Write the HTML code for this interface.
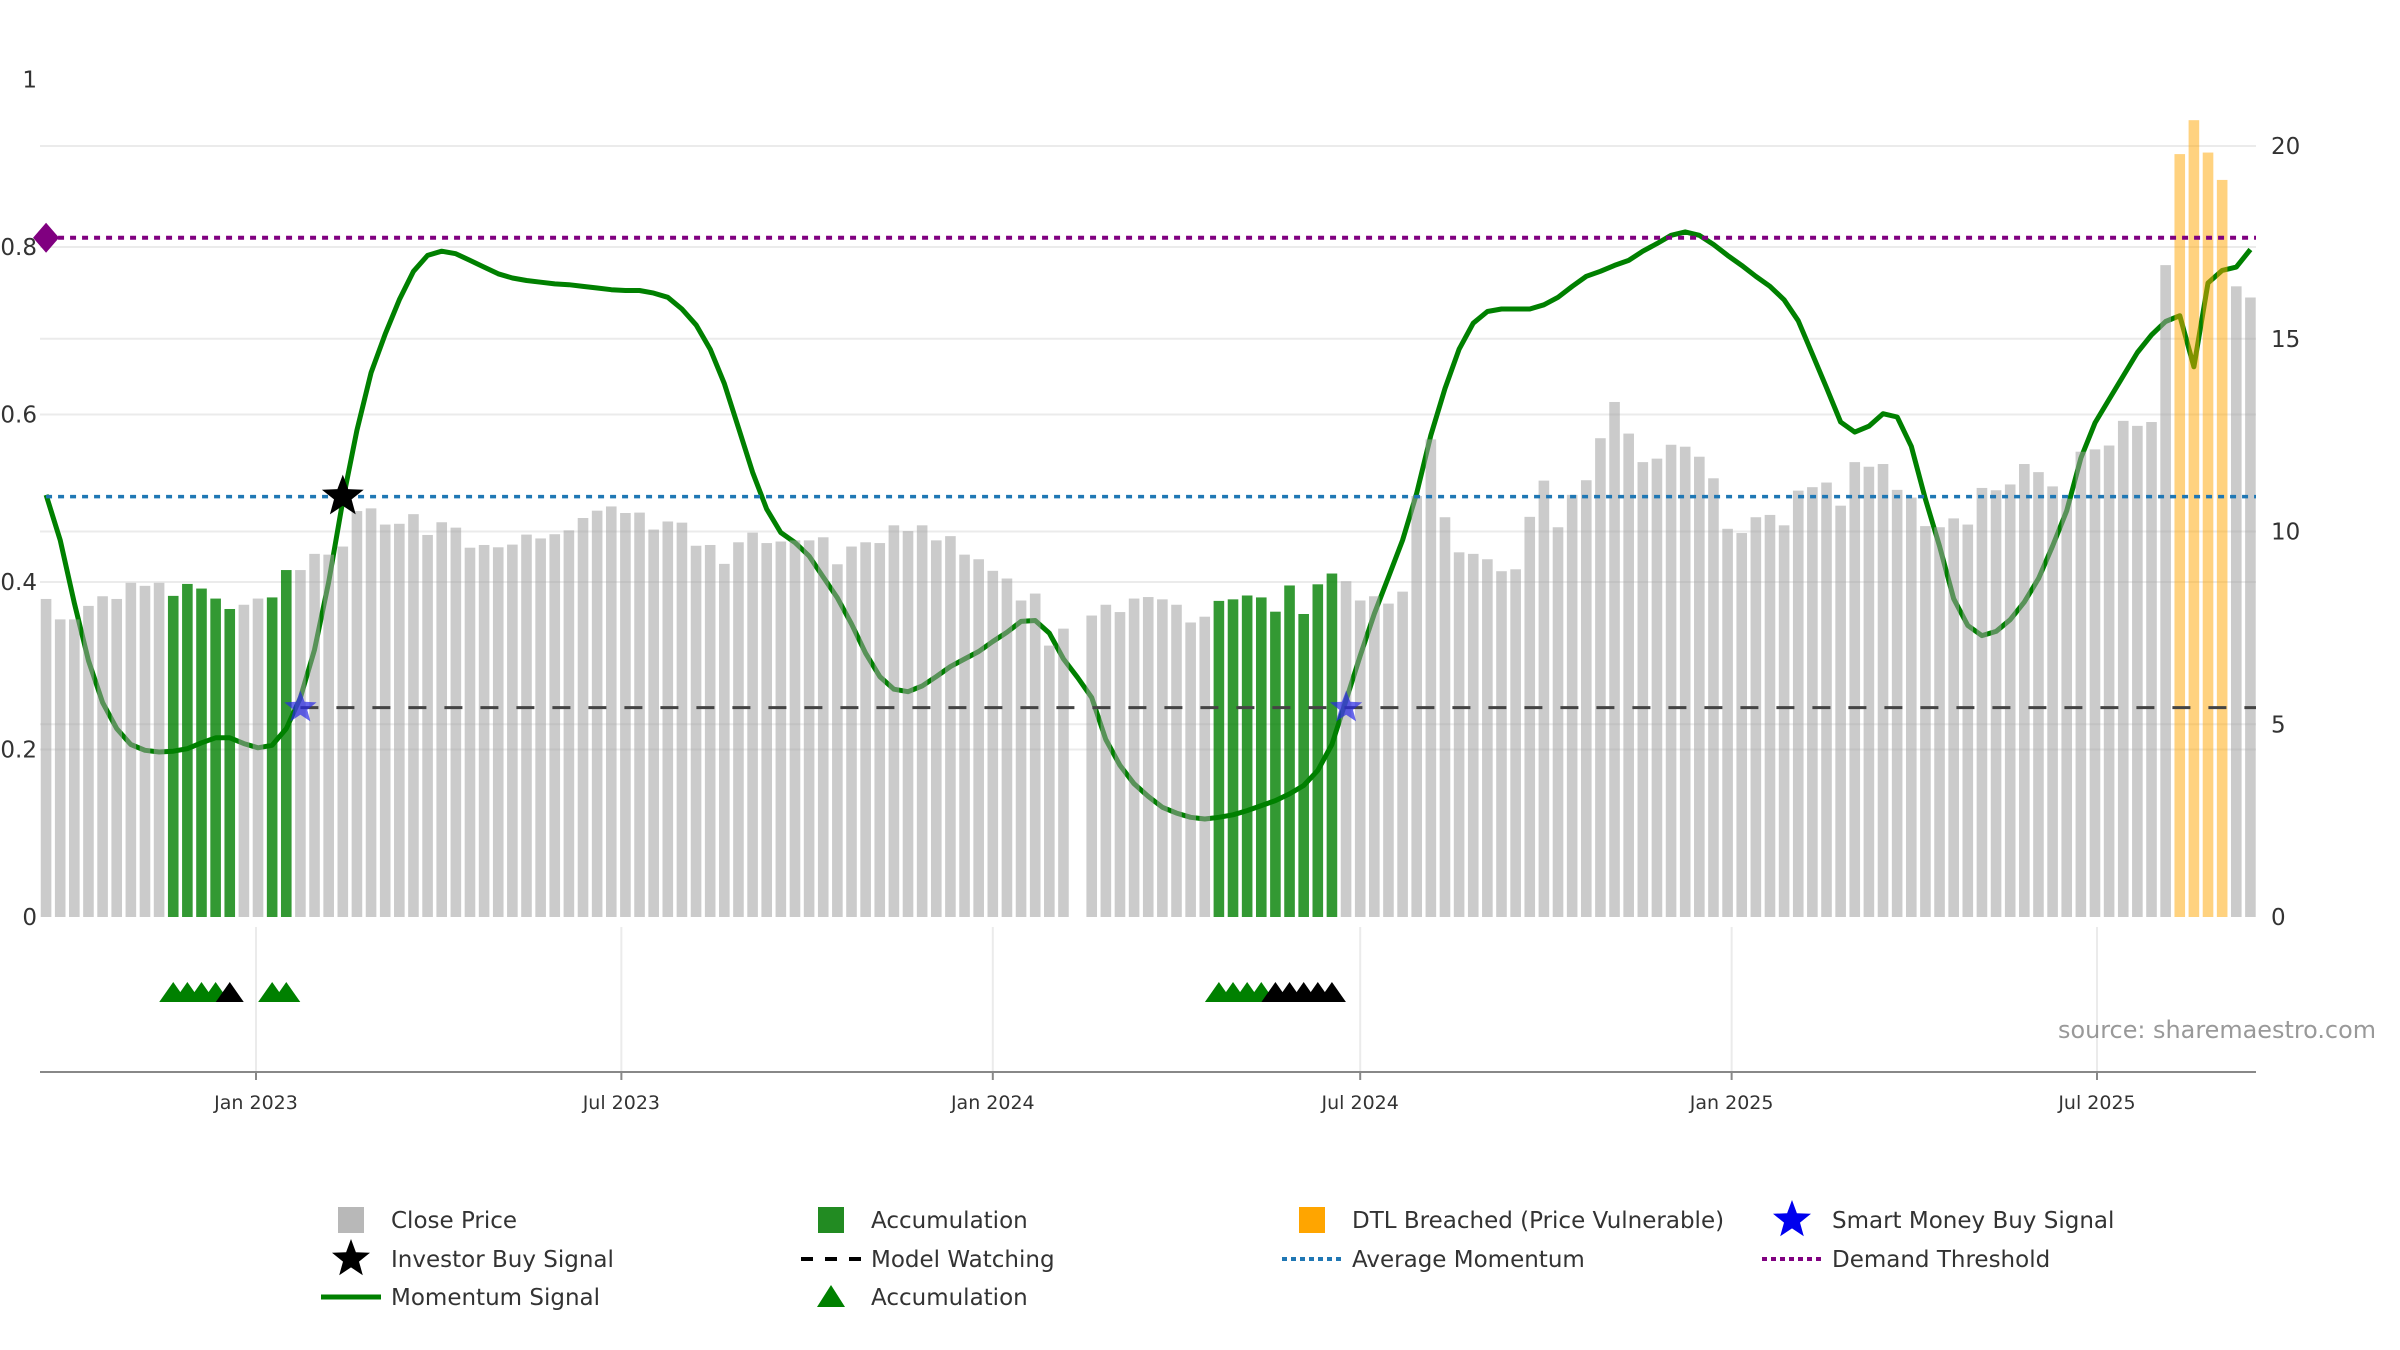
<!DOCTYPE html>
<html><head><meta charset="utf-8"><style>
html,body{margin:0;padding:0;background:#fff;}
svg{display:block;font-family:"DejaVu Sans","Liberation Sans",sans-serif;}
</style></head><body>
<svg id="chart" width="2400" height="1350" viewBox="0 0 2400 1350" xmlns="http://www.w3.org/2000/svg">
<g id="grid"></g>
<g id="lines"></g>
<g id="bars"></g>
<g id="refs"></g>
<g id="marks"></g>
<g id="axes"></g>
<text x="2376" y="1038" text-anchor="end" font-size="24" fill="#999" textLength="318" lengthAdjust="spacingAndGlyphs">source: sharemaestro.com</text>
<g id="legend"></g>
</svg>
<script>
const startDate = "2022-09-19";
const prices = [8.25,7.72,7.72,8.07,8.32,8.25,8.67,8.59,8.67,8.33,8.64,8.52,8.26,7.99,8.10,8.26,8.29,9.0,9.0,9.42,9.40,9.61,10.53,10.60,10.18,10.20,10.45,9.91,10.24,10.10,9.58,9.65,9.59,9.66,9.92,9.82,9.93,10.03,10.35,10.54,10.65,10.48,
10.49,10.05,10.26,10.23,9.63,9.65,9.16,9.72,9.97,9.70,9.74,9.77,9.77,9.85,9.15,9.61,9.72,9.70,10.16,10.01,10.16,9.77,9.88,9.40,9.28,8.98,8.78,8.21,8.39,7.04,7.48,null,7.82,8.10,7.91,8.26,8.30,8.24,8.10,7.64,7.79,8.20,
8.24,8.34,8.29,7.92,8.60,7.86,8.63,8.91,8.71,8.21,8.32,8.13,8.44,10.92,12.39,10.37,9.46,9.42,9.28,8.97,9.02,10.38,11.32,10.11,10.95,11.33,12.42,13.36,12.54,11.80,11.89,12.25,12.20,11.94,11.38,10.07,9.96,10.37,10.43,10.16,11.06,11.15,
11.27,10.67,11.80,11.68,11.75,11.08,10.88,10.14,10.11,10.34,10.18,11.13,11.07,11.22,11.75,11.54,11.17,10.85,12.07,12.13,12.23,12.87,12.74,12.84,16.91,19.79,20.67,19.83,19.12,16.36,16.07];
const momentum = [0.504,0.45,0.375,0.306,0.256,0.225,0.206,0.199,0.197,0.198,0.201,0.208,0.214,0.214,0.207,0.202,0.205,0.225,0.262,0.319,0.40,0.497,0.581,0.65,0.696,0.737,0.771,0.79,0.795,0.792,0.784,0.776,0.768,0.763,0.76,0.758,0.756,0.755,0.753,0.751,0.749,0.748,
0.748,0.745,0.74,0.726,0.707,0.678,0.637,0.584,0.531,0.487,0.459,0.447,0.431,0.406,0.381,0.35,0.315,0.287,0.272,0.269,0.276,0.287,0.299,0.308,0.317,0.329,0.34,0.353,0.354,0.339,0.308,0.286,0.262,0.212,0.181,0.159,0.144,0.131,0.124,0.119,0.117,0.119,
0.122,0.127,0.133,0.139,0.147,0.157,0.175,0.206,0.259,0.312,0.362,0.406,0.45,0.506,0.575,0.631,0.678,0.709,0.723,0.726,0.726,0.726,0.731,0.74,0.753,0.765,0.771,0.778,0.784,0.795,0.804,0.814,0.818,0.814,0.803,0.79,0.778,0.765,0.753,0.737,0.712,0.672,
0.632,0.591,0.579,0.586,0.601,0.597,0.562,0.499,0.443,0.38,0.348,0.336,0.341,0.355,0.376,0.404,0.443,0.485,0.548,0.59,0.618,0.646,0.674,0.695,0.711,0.718,0.657,0.757,0.772,0.776,0.797];
const accumulationIdx = [9,10,11,12,13,16,17,83,84,85,86,87,88,89,90,91];
const dtlIdx = [151,152,153,154];
const accTriGreen = [9,10,11,12,16,17,83,84,85,86];
const accTriBlack = [13,87,88,89,90,91];
const smartMoneyIdx = [18,92];
const investorIdx = [21];
const modelWatchStart = 18;
const avgMomentum = 0.502;
const demandThreshold = 0.811;
const watchLevel = 0.25;
const leftTicks = [0,0.2,0.4,0.6,0.8,1];
const leftTickLabels = ["0","0.2","0.4","0.6","0.8","1"];
const rightTicks = [0,5,10,15,20];
const dateTicks = ["2023-01-01","2023-07-01","2024-01-01","2024-07-01","2025-01-01","2025-07-01"];
const dateTickLabels = ["Jan 2023","Jul 2023","Jan 2024","Jul 2024","Jan 2025","Jul 2025"];

const NS="http://www.w3.org/2000/svg";
function mk(parent,tag,attrs){const e=document.createElementNS(NS,tag);for(const k in attrs)e.setAttribute(k,attrs[k]);parent.appendChild(e);return e;}
const DAY=86400000, ref=Date.UTC(2023,0,1), pxDay=(2097-256)/912;
function xDate(s){const d=new Date(s+"T00:00:00Z");return 256+(d-ref)/DAY*pxDay;}
function xIdx(i){const d=new Date(startDate+"T00:00:00Z").getTime()+i*7*DAY;return 256+(d-ref)/DAY*pxDay;}
function yL(v){return 917-v*837.5;}
function yR(v){return 917-v*38.55;}
const PL=40, PR=2256, barW=10.6;

const grid=document.getElementById('grid');
leftTicks.slice(1,5).forEach(t=>{const l=mk(grid,'line',{x1:PL,x2:PR,y1:yL(t),y2:yL(t),stroke:'#ebebeb','stroke-width':2});

});
rightTicks.slice(1).forEach(t=>{const l=mk(grid,'line',{x1:PL,x2:PR,y1:yR(t),y2:yR(t),stroke:'#ebebeb','stroke-width':2});

});
dateTicks.forEach(d=>{const l=mk(grid,'line',{x1:xDate(d),x2:xDate(d),y1:927,y2:1072,stroke:'#ebebeb','stroke-width':2});

});

const lines=document.getElementById('lines');
const pts=momentum.map((v,i)=>xIdx(i).toFixed(1)+","+yL(v).toFixed(1)).join(" ");
const ml=mk(lines,'polyline',{points:pts,fill:'none',stroke:'#008000','stroke-width':5,'stroke-linejoin':'round'});



const bars=document.getElementById('bars');
prices.forEach((p,i)=>{if(p==null)return;
 let fill='rgba(160,160,160,0.55)';
 if(accumulationIdx.includes(i))fill='rgba(0,128,0,0.8)';
 if(dtlIdx.includes(i))fill='rgba(255,165,0,0.5)';
 const r=mk(bars,'rect',{x:xIdx(i)-barW/2,y:yR(p),width:barW,height:917-yR(p),fill:fill});
 
 });

const refs=document.getElementById('refs');
let l;
l=mk(refs,'line',{x1:xIdx(0),x2:PR,y1:yL(demandThreshold),y2:yL(demandThreshold),stroke:'#800080','stroke-width':4,'stroke-dasharray':'6 6'});


l=mk(refs,'line',{x1:xIdx(0),x2:PR,y1:yL(avgMomentum),y2:yL(avgMomentum),stroke:'#1f77b4','stroke-width':3.5,'stroke-dasharray':'6 6'});


l=mk(refs,'line',{x1:xIdx(modelWatchStart),x2:PR,y1:yL(watchLevel),y2:yL(watchLevel),stroke:'#444','stroke-width':3,'stroke-dasharray':'18 18'});


l=mk(refs,'path',{d:`M${xIdx(0)-13},${yL(demandThreshold)} l13,-15 l13,15 l-13,15 z`,fill:'#800080'});



function starPath(cx,cy,R){const r=R*0.42;let d='';for(let k=0;k<10;k++){const a=-Math.PI/2+k*Math.PI/5;const rr=k%2?r:R;d+=(k?'L':'M')+(cx+rr*Math.cos(a)).toFixed(1)+','+(cy+rr*Math.sin(a)).toFixed(1);}return d+'Z';}
const marks=document.getElementById('marks');
smartMoneyIdx.forEach(i=>{const s=mk(marks,'path',{d:starPath(xIdx(i),yL(watchLevel),17),fill:'rgba(40,40,230,0.7)'});

});
investorIdx.forEach(i=>{const s=mk(marks,'path',{d:starPath(xIdx(i),yL(avgMomentum),22),fill:'#000'});

});
function tri(i,col){const x=xIdx(i),y=992;const t=mk(marks,'path',{d:`M${x-14},${y+10} L${x},${y-10} L${x+14},${y+10}Z`,fill:col});

}
accTriGreen.forEach(i=>tri(i,'#008000'));
accTriBlack.forEach(i=>tri(i,'#000'));

const axes=document.getElementById('axes');
l=mk(axes,'line',{x1:PL,x2:PR,y1:1072,y2:1072,stroke:'#888','stroke-width':2});


dateTicks.forEach((d,k)=>{const x=xDate(d);
 const t=mk(axes,'line',{x1:x,x2:x,y1:1072,y2:1080,stroke:'#888','stroke-width':2});
 
 
 const tx=mk(axes,'text',{x:x,y:1109,'text-anchor':'middle','font-size':19,fill:'#333'});tx.textContent=dateTickLabels[k];
 
 });
leftTicks.forEach((t,k)=>{const tx=mk(axes,'text',{x:37,y:yL(t)+8,'text-anchor':'end','font-size':23,fill:'#333'});tx.textContent=leftTickLabels[k];
 
 });
rightTicks.forEach(t=>{const tx=mk(axes,'text',{x:2271,y:yR(t)+8,'font-size':23,fill:'#333'});tx.textContent=String(t);
 
 });

const lg=document.getElementById('legend');
const rows=[1220,1259,1297], cols=[351,831,1312,1792];
function ltext(c,r,s){const t=mk(lg,'text',{x:cols[c]+40,y:rows[r]+8,'font-size':23,fill:'#333'});t.textContent=s;
 
 }
function lsq(c,r,col){const e=mk(lg,'rect',{x:cols[c]-13,y:rows[r]-13,width:26,height:26,fill:col});
 
 }
function lline(c,r,col,w,dash){const e=mk(lg,'line',{x1:cols[c]-30,x2:cols[c]+30,y1:rows[r],y2:rows[r],stroke:col,'stroke-width':w,'stroke-dasharray':dash||'none'});
 
 }
lsq(0,0,'#b8b8b8');ltext(0,0,'Close Price');
let e=mk(lg,'path',{d:starPath(cols[0],rows[1],20),fill:'#000'});


ltext(0,1,'Investor Buy Signal');
lline(0,2,'#008000',5);ltext(0,2,'Momentum Signal');
lsq(1,0,'#228b22');ltext(1,0,'Accumulation');
lline(1,1,'#000',4,'12 12');ltext(1,1,'Model Watching');
e=mk(lg,'path',{d:`M${cols[1]-14},${rows[2]+10} L${cols[1]},${rows[2]-12} L${cols[1]+14},${rows[2]+10}Z`,fill:'#008000'});


ltext(1,2,'Accumulation');
lsq(2,0,'#ffa500');ltext(2,0,'DTL Breached (Price Vulnerable)');
lline(2,1,'#1f77b4',4,'5 4');ltext(2,1,'Average Momentum');
e=mk(lg,'path',{d:starPath(cols[3],rows[0],20),fill:'#0000ee'});


ltext(3,0,'Smart Money Buy Signal');
lline(3,1,'#800080',4,'5 4');ltext(3,1,'Demand Threshold');
</script>
</body></html>
